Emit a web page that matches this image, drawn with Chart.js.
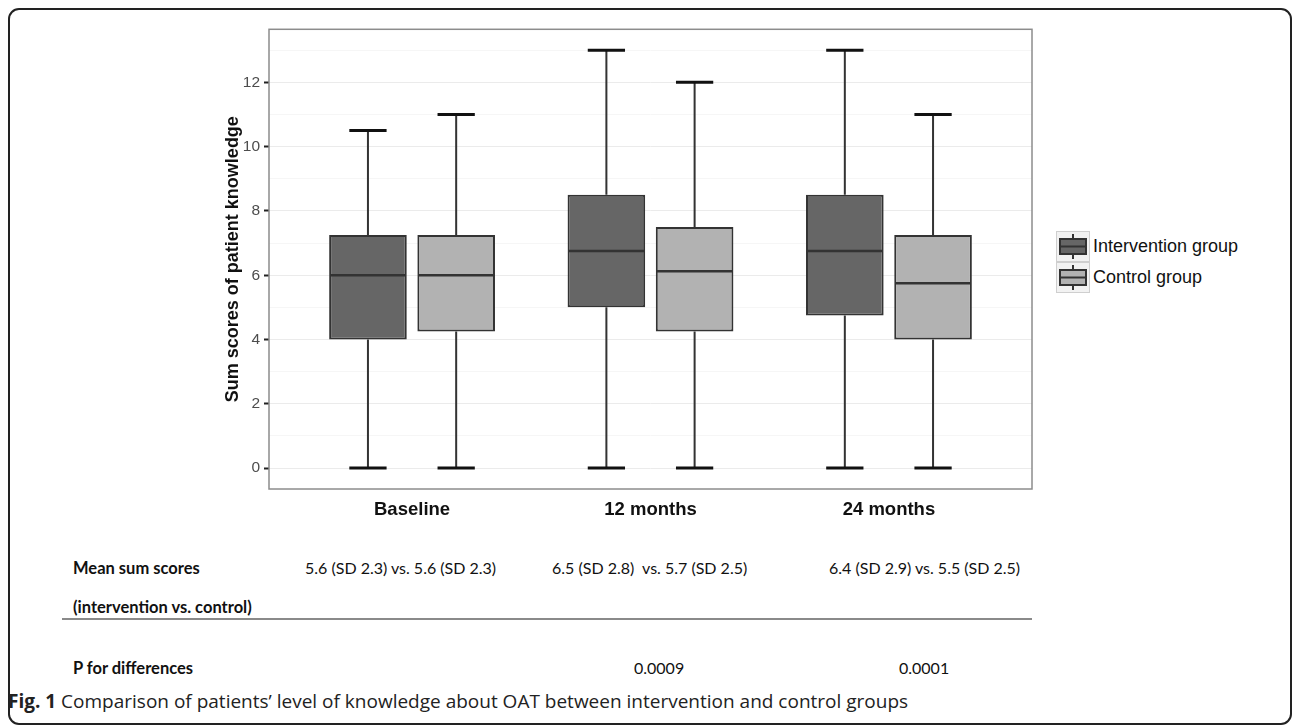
<!DOCTYPE html>
<html>
<head>
<meta charset="utf-8">
<script src="https://cdn.jsdelivr.net/npm/chart.js@4.4.1/dist/chart.umd.min.js"></script>
<style>
  html, body { margin: 0; padding: 0; background: #fff; width: 1292px; height: 726px; overflow: hidden; }
  #frame { position: absolute; left: 8px; top: 8px; width: 1280px; height: 713px; border: 2px solid #222; border-radius: 11px; }
  #chartBox { position: absolute; left: 222px; top: 16px; width: 828px; height: 510px; }
  .legend { position: absolute; left: 1056px; top: 231px; font-family: "Liberation Sans", Arial, sans-serif; font-size: 18px; color: #111; }
  .legend .row { position: relative; height: 31px; }
  .legend .key { position: absolute; left: 0; top: 0; width: 32px; height: 29px; background: #f2f2f2; border: 1px solid #cfcfcf; }
  .legend .label { position: absolute; left: 37px; top: 5px; white-space: nowrap; }
  .tbl { position: absolute; font-family: Lato, "Open Sans", sans-serif; font-size: 16px; color: #111; white-space: nowrap; }
  .tbl.b { font-weight: bold; font-size: 16.5px; }
  #rule { position: absolute; left: 62px; top: 618px; width: 970px; height: 0; border-top: 2px solid #8a8a8a; }
  #caption { position: absolute; left: 8px; top: 688px; font-family: "Open Sans", sans-serif; font-size: 19px; color: #222; white-space: nowrap; }
</style>
</head>
<body>
<div id="frame"></div>
<div id="chartBox"><canvas id="boxChart"></canvas></div>

<div class="legend">
  <div class="row"><canvas class="key" id="keyA" width="32" height="29"></canvas><span class="label">Intervention group</span></div>
  <div class="row"><canvas class="key" id="keyB" width="32" height="29"></canvas><span class="label">Control group</span></div>
</div>

<div class="tbl b" style="left:73px; top:558px;">Mean sum scores</div>
<div class="tbl b" style="left:73px; top:597px;">(intervention vs. control)</div>
<div id="rule"></div>
<div class="tbl b" style="left:73px; top:658px;">P for differences</div>
<div id="means"></div>
<div id="pvals"></div>
<div id="caption"><b>Fig. 1</b> Comparison of patients’ level of knowledge about OAT between intervention and control groups</div>

<script>
// categories and box statistics (min, q1, median, q3, max)
const timepoints = ['Baseline', '12 months', '24 months'];
const groups = ['Intervention group', 'Control group'];

const interventionMin = [0, 0, 0];
const interventionQ1 = [4, 5, 4.75];
const interventionMedian = [6, 6.75, 6.75];
const interventionQ3 = [7.25, 8.5, 8.5];
const interventionMax = [10.5, 13, 13];

const controlMin = [0, 0, 0];
const controlQ1 = [4.25, 4.25, 4];
const controlMedian = [6, 6.125, 5.75];
const controlQ3 = [7.25, 7.5, 7.25];
const controlMax = [11, 12, 11];

// table under the plot
const meanText = ['5.6 (SD 2.3) vs. 5.6 (SD 2.3)', '6.5 (SD 2.8)\u00a0 vs. 5.7 (SD 2.5)', '6.4 (SD 2.9) vs. 5.5 (SD 2.5)'];
const meanLeft = [305, 552, 829];
const pText = ['0.0009', '0.0001'];
const pLeft = [634, 899];

const yTicks = [0, 2, 4, 6, 8, 10, 12];

const darkFill = '#666666';
const lightFill = '#b2b2b2';
const edge = '#333333';

function boxData(q1, q3) {
    return q1.map((v, i) => ({ x: i + 1, y: [v, q3[i]] }));
}

const stats = [
    { min: interventionMin, med: interventionMedian, max: interventionMax, q1: interventionQ1, q3: interventionQ3 },
    { min: controlMin, med: controlMedian, max: controlMax, q1: controlQ1, q3: controlQ3 }
];

// whiskers, caps and medians drawn on top of the floating bars
const boxPlotPlugin = {
    id: 'boxPlot',
    afterDatasetsDraw(chart) {
        const ctx = chart.ctx;
        const y = chart.scales.y;
        ctx.save();
        chart.data.datasets.forEach((ds, di) => {
            const meta = chart.getDatasetMeta(di);
            const s = stats[di];
            meta.data.forEach((bar, i) => {
                const cx = bar.x;
                const half = bar.width / 2;
                const capHalf = bar.width * 0.24;
                ctx.strokeStyle = edge;
                ctx.lineWidth = 2;
                ctx.beginPath();
                ctx.moveTo(cx, y.getPixelForValue(s.q3[i]));
                ctx.lineTo(cx, y.getPixelForValue(s.max[i]));
                ctx.moveTo(cx, y.getPixelForValue(s.q1[i]));
                ctx.lineTo(cx, y.getPixelForValue(s.min[i]));
                ctx.stroke();
                ctx.strokeStyle = '#111';
                ctx.lineWidth = 3;
                ctx.beginPath();
                ctx.moveTo(cx - capHalf, y.getPixelForValue(s.max[i]));
                ctx.lineTo(cx + capHalf, y.getPixelForValue(s.max[i]));
                ctx.moveTo(cx - capHalf, y.getPixelForValue(s.min[i]));
                ctx.lineTo(cx + capHalf, y.getPixelForValue(s.min[i]));
                ctx.stroke();
                ctx.strokeStyle = edge;
                ctx.lineWidth = 2.5;
                ctx.beginPath();
                ctx.moveTo(cx - half + 1, y.getPixelForValue(s.med[i]));
                ctx.lineTo(cx + half - 1, y.getPixelForValue(s.med[i]));
                ctx.stroke();
            });
        });
        // panel border
        const a = chart.chartArea;
        ctx.strokeStyle = '#8c8c8c';
        ctx.lineWidth = 1.5;
        ctx.strokeRect(a.left, a.top, a.right - a.left, a.bottom - a.top);
        ctx.restore();
    }
};

const chart = new Chart(document.getElementById('boxChart'), {
    type: 'bar',
    data: {
        datasets: [
            { label: groups[0], data: boxData(interventionQ1, interventionQ3), backgroundColor: darkFill, borderColor: edge, borderWidth: 2, borderSkipped: false },
            { label: groups[1], data: boxData(controlQ1, controlQ3), backgroundColor: lightFill, borderColor: edge, borderWidth: 2, borderSkipped: false }
        ]
    },
    options: {
        responsive: true,
        maintainAspectRatio: false,
        animation: false,
        categoryPercentage: 0.74,
        barPercentage: 0.88,
        layout: { padding: { top: 10, right: 18, left: 0, bottom: 0 } },
        plugins: { legend: { display: false }, tooltip: { enabled: false } },
        scales: {
            x: {
                type: 'linear',
                offset: false,
                min: 0.4,
                max: 3.6,
                afterBuildTicks: (scale) => { scale.ticks = timepoints.map((t, i) => ({ value: i + 1 })); },
                afterFit: (scale) => { scale.height = 37; },
                grid: { display: false },
                border: { display: false },
                ticks: {
                    padding: 2,
                    color: '#111',
                    font: { family: '"Liberation Sans", Arial, sans-serif', size: 18.5, weight: 'bold' },
                    callback: (v) => timepoints[v - 1]
                }
            },
            y: {
                min: -0.65,
                max: 13.65,
                afterFit: (scale) => { scale.width = 47; },
                border: { display: false },
                grid: {
                    color: (c) => (c.tick && c.tick.value % 2 === 0) ? '#ebebeb' : '#f6f6f6',
                    tickColor: (c) => (c.tick && c.tick.value % 2 === 0) ? '#222' : 'rgba(0,0,0,0)',
                    tickLength: 5,
                    tickWidth: 2,
                    lineWidth: 1
                },
                ticks: {
                    stepSize: 1,
                    includeBounds: false,
                    padding: 4,
                    color: '#4d4d4d',
                    font: { family: '"Liberation Sans", Arial, sans-serif', size: 15.5 },
                    callback: (v) => yTicks.includes(v) ? String(v) : ''
                },
                title: {
                    display: true,
                    text: 'Sum scores of patient knowledge',
                    color: '#111',
                    padding: { top: 0, bottom: 0 },
                    font: { family: '"Liberation Sans", Arial, sans-serif', size: 18, weight: 'bold' }
                }
            }
        }
    },
    plugins: [boxPlotPlugin]
});

// table text
const meansDiv = document.getElementById('means');
meanText.forEach((t, i) => {
    const m = document.createElement('div');
    m.className = 'tbl';
    m.textContent = t;
    m.style.left = meanLeft[i] + 'px';
    m.style.top = '558px';
    meansDiv.appendChild(m);
});
const pDiv = document.getElementById('pvals');
pText.forEach((t, i) => {
    const p = document.createElement('div');
    p.className = 'tbl';
    p.textContent = t;
    p.style.left = pLeft[i] + 'px';
    p.style.top = '658px';
    pDiv.appendChild(p);
});

// legend keys: small box glyphs
function drawKey(id, fill) {
    const c = document.getElementById(id).getContext('2d');
    c.strokeStyle = '#333';
    c.lineWidth = 2;
    c.beginPath();
    c.moveTo(16, 2); c.lineTo(16, 27);
    c.stroke();
    c.fillStyle = fill;
    c.fillRect(3, 7, 26, 15);
    c.strokeRect(3, 7, 26, 15);
    c.beginPath();
    c.moveTo(3, 14.5); c.lineTo(29, 14.5);
    c.stroke();
}
drawKey('keyA', darkFill);
drawKey('keyB', lightFill);
</script>
</body>
</html>
